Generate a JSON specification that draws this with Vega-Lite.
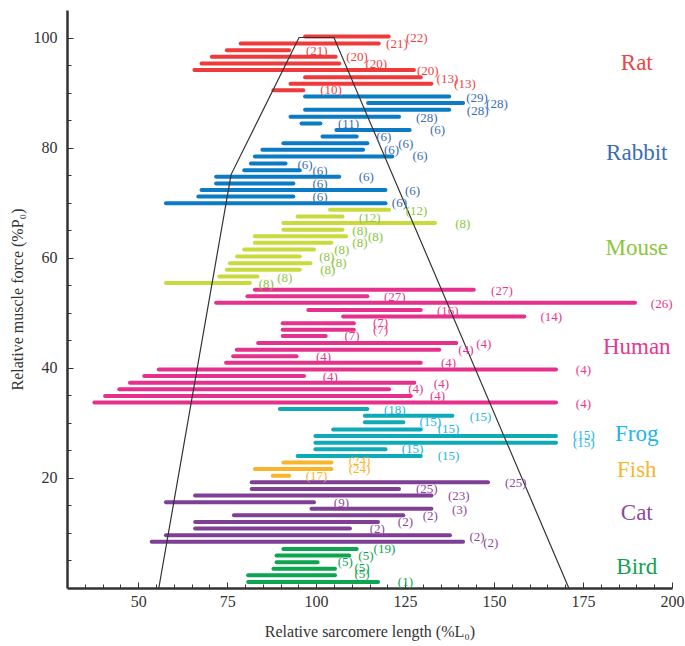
{
  "$schema": "https://vega.github.io/schema/vega-lite/v6.json",
  "autosize": "none",
  "width": 605,
  "height": 578,
  "padding": {"left": 67, "top": 10, "right": 13, "bottom": 58},
  "background": "white",
  "config": {"view": {"stroke": null}, "font": "Liberation Serif"},
  "datasets": {
    "bars": [
      {"s": "Rat", "y": 100.2, "x1": 96.9, "x2": 120.4},
      {"s": "Rat", "y": 98.9, "x1": 78.8, "x2": 117.6},
      {"s": "Rat", "y": 97.7, "x1": 74.9, "x2": 92.4},
      {"s": "Rat", "y": 96.5, "x1": 70.7, "x2": 105.5},
      {"s": "Rat", "y": 95.3, "x1": 67.8, "x2": 106.5},
      {"s": "Rat", "y": 94.1, "x1": 65.8, "x2": 127.5},
      {"s": "Rat", "y": 92.8, "x1": 96.9, "x2": 129.4},
      {"s": "Rat", "y": 91.6, "x1": 92.8, "x2": 132.4},
      {"s": "Rat", "y": 90.4, "x1": 88.0, "x2": 96.4},
      {"s": "Rabbit", "y": 89.3, "x1": 96.9, "x2": 137.4},
      {"s": "Rabbit", "y": 88.1, "x1": 114.6, "x2": 141.3},
      {"s": "Rabbit", "y": 86.9, "x1": 96.9, "x2": 137.4},
      {"s": "Rabbit", "y": 85.6, "x1": 92.8, "x2": 123.3},
      {"s": "Rabbit", "y": 84.4, "x1": 95.9, "x2": 101.2},
      {"s": "Rabbit", "y": 83.2, "x1": 105.7, "x2": 126.3},
      {"s": "Rabbit", "y": 82.0, "x1": 101.8, "x2": 111.4},
      {"s": "Rabbit", "y": 80.8, "x1": 90.8, "x2": 114.4},
      {"s": "Rabbit", "y": 79.6, "x1": 84.9, "x2": 113.2},
      {"s": "Rabbit", "y": 78.4, "x1": 82.8, "x2": 121.4},
      {"s": "Rabbit", "y": 77.1, "x1": 81.7, "x2": 91.4},
      {"s": "Rabbit", "y": 75.9, "x1": 79.8, "x2": 95.4},
      {"s": "Rabbit", "y": 74.7, "x1": 71.9, "x2": 106.5},
      {"s": "Rabbit", "y": 73.5, "x1": 71.9, "x2": 93.6},
      {"s": "Rabbit", "y": 72.3, "x1": 67.8, "x2": 119.5},
      {"s": "Rabbit", "y": 71.1, "x1": 66.9, "x2": 93.6},
      {"s": "Rabbit", "y": 69.9, "x1": 57.8, "x2": 119.5},
      {"s": "Mouse", "y": 68.7, "x1": 103.9, "x2": 120.5},
      {"s": "Mouse", "y": 67.5, "x1": 94.8, "x2": 107.4},
      {"s": "Mouse", "y": 66.3, "x1": 90.8, "x2": 133.4},
      {"s": "Mouse", "y": 65.1, "x1": 90.8, "x2": 107.4},
      {"s": "Mouse", "y": 63.9, "x1": 82.8, "x2": 108.4},
      {"s": "Mouse", "y": 62.7, "x1": 82.8, "x2": 104.3},
      {"s": "Mouse", "y": 61.5, "x1": 79.8, "x2": 99.4},
      {"s": "Mouse", "y": 60.2, "x1": 77.8, "x2": 95.4},
      {"s": "Mouse", "y": 59.0, "x1": 75.8, "x2": 98.4},
      {"s": "Mouse", "y": 57.8, "x1": 74.9, "x2": 95.4},
      {"s": "Mouse", "y": 56.6, "x1": 72.8, "x2": 83.5},
      {"s": "Mouse", "y": 55.4, "x1": 57.8, "x2": 81.4},
      {"s": "Human", "y": 54.2, "x1": 82.8, "x2": 144.3},
      {"s": "Human", "y": 53.0, "x1": 80.7, "x2": 114.4},
      {"s": "Human", "y": 51.8, "x1": 71.9, "x2": 189.6},
      {"s": "Human", "y": 50.5, "x1": 97.8, "x2": 129.4},
      {"s": "Human", "y": 49.3, "x1": 107.6, "x2": 158.5},
      {"s": "Human", "y": 48.1, "x1": 90.6, "x2": 110.6},
      {"s": "Human", "y": 46.9, "x1": 90.6, "x2": 110.6},
      {"s": "Human", "y": 45.8, "x1": 90.6, "x2": 102.7},
      {"s": "Human", "y": 44.5, "x1": 83.7, "x2": 139.4},
      {"s": "Human", "y": 43.3, "x1": 77.7, "x2": 134.6},
      {"s": "Human", "y": 42.1, "x1": 76.7, "x2": 94.5},
      {"s": "Human", "y": 40.9, "x1": 74.7, "x2": 129.4},
      {"s": "Human", "y": 39.7, "x1": 55.8, "x2": 167.4},
      {"s": "Human", "y": 38.5, "x1": 51.7, "x2": 96.6},
      {"s": "Human", "y": 37.3, "x1": 47.7, "x2": 127.6},
      {"s": "Human", "y": 36.1, "x1": 44.7, "x2": 120.5},
      {"s": "Human", "y": 34.9, "x1": 40.7, "x2": 126.6},
      {"s": "Human", "y": 33.7, "x1": 37.7, "x2": 167.4},
      {"s": "Frog", "y": 32.5, "x1": 89.8, "x2": 114.4},
      {"s": "Frog", "y": 31.3, "x1": 113.7, "x2": 138.3},
      {"s": "Frog", "y": 30.1, "x1": 113.7, "x2": 124.5},
      {"s": "Frog", "y": 28.8, "x1": 104.8, "x2": 129.4},
      {"s": "Frog", "y": 27.6, "x1": 99.8, "x2": 167.4},
      {"s": "Frog", "y": 26.4, "x1": 99.8, "x2": 167.4},
      {"s": "Frog", "y": 25.2, "x1": 99.8, "x2": 119.5},
      {"s": "Frog", "y": 24.0, "x1": 94.8, "x2": 129.4},
      {"s": "Fish", "y": 22.8, "x1": 90.8, "x2": 104.3},
      {"s": "Fish", "y": 21.6, "x1": 82.8, "x2": 104.3},
      {"s": "Fish", "y": 20.4, "x1": 87.8, "x2": 92.4},
      {"s": "Cat", "y": 19.2, "x1": 81.9, "x2": 148.3},
      {"s": "Cat", "y": 18.0, "x1": 81.9, "x2": 123.3},
      {"s": "Cat", "y": 16.8, "x1": 66.0, "x2": 132.4},
      {"s": "Cat", "y": 15.6, "x1": 57.8, "x2": 99.4},
      {"s": "Cat", "y": 14.4, "x1": 98.7, "x2": 132.4},
      {"s": "Cat", "y": 13.2, "x1": 76.9, "x2": 124.5},
      {"s": "Cat", "y": 12.0, "x1": 66.0, "x2": 117.4},
      {"s": "Cat", "y": 10.8, "x1": 66.0, "x2": 109.5},
      {"s": "Cat", "y": 9.6, "x1": 57.8, "x2": 137.6},
      {"s": "Cat", "y": 8.4, "x1": 53.8, "x2": 141.3},
      {"s": "Bird", "y": 7.1, "x1": 90.8, "x2": 111.4},
      {"s": "Bird", "y": 5.9, "x1": 88.9, "x2": 109.3},
      {"s": "Bird", "y": 4.7, "x1": 88.9, "x2": 100.4},
      {"s": "Bird", "y": 3.5, "x1": 88.0, "x2": 105.3},
      {"s": "Bird", "y": 2.3, "x1": 80.9, "x2": 105.3},
      {"s": "Bird", "y": 1.1, "x1": 80.9, "x2": 117.4}
    ],
    "labels": [
      {"s": "Rat", "x": 128.3, "y": 100.0, "t": "(22)"},
      {"s": "Rat", "x": 122.7, "y": 98.9, "t": "(21)"},
      {"s": "Rat", "x": 100.2, "y": 97.5, "t": "(21)"},
      {"s": "Rat", "x": 111.5, "y": 96.4, "t": "(20)"},
      {"s": "Rat", "x": 116.9, "y": 95.2, "t": "(20)"},
      {"s": "Rat", "x": 131.4, "y": 94.0, "t": "(20)"},
      {"s": "Rat", "x": 136.9, "y": 92.5, "t": "(13)"},
      {"s": "Rat", "x": 141.8, "y": 91.6, "t": "(13)"},
      {"s": "Rat", "x": 104.2, "y": 90.4, "t": "(10)"},
      {"s": "Rabbit", "x": 145.2, "y": 89.1, "t": "(29)"},
      {"s": "Rabbit", "x": 150.8, "y": 88.0, "t": "(28)"},
      {"s": "Rabbit", "x": 145.4, "y": 86.7, "t": "(28)"},
      {"s": "Rabbit", "x": 131.1, "y": 85.4, "t": "(28)"},
      {"s": "Rabbit", "x": 109.1, "y": 84.3, "t": "(11)"},
      {"s": "Rabbit", "x": 134.1, "y": 83.2, "t": "(6)"},
      {"s": "Rabbit", "x": 119.0, "y": 81.9, "t": "(6)"},
      {"s": "Rabbit", "x": 125.2, "y": 80.7, "t": "(6)"},
      {"s": "Rabbit", "x": 121.2, "y": 79.5, "t": "(6)"},
      {"s": "Rabbit", "x": 129.2, "y": 78.4, "t": "(6)"},
      {"s": "Rabbit", "x": 96.9, "y": 76.9, "t": "(6)"},
      {"s": "Rabbit", "x": 101.1, "y": 75.8, "t": "(6)"},
      {"s": "Rabbit", "x": 114.1, "y": 74.7, "t": "(6)"},
      {"s": "Rabbit", "x": 101.1, "y": 73.4, "t": "(6)"},
      {"s": "Rabbit", "x": 127.1, "y": 72.2, "t": "(6)"},
      {"s": "Rabbit", "x": 101.1, "y": 71.0, "t": "(6)"},
      {"s": "Rabbit", "x": 123.4, "y": 69.9, "t": "(6)"},
      {"s": "Mouse", "x": 128.2, "y": 68.4, "t": "(12)"},
      {"s": "Mouse", "x": 115.1, "y": 67.3, "t": "(12)"},
      {"s": "Mouse", "x": 141.2, "y": 66.1, "t": "(8)"},
      {"s": "Mouse", "x": 112.3, "y": 64.9, "t": "(8)"},
      {"s": "Mouse", "x": 116.7, "y": 63.8, "t": "(8)"},
      {"s": "Mouse", "x": 112.3, "y": 62.6, "t": "(8)"},
      {"s": "Mouse", "x": 107.2, "y": 61.4, "t": "(8)"},
      {"s": "Mouse", "x": 103.0, "y": 60.2, "t": "(8)"},
      {"s": "Mouse", "x": 106.4, "y": 59.0, "t": "(8)"},
      {"s": "Mouse", "x": 103.3, "y": 57.8, "t": "(8)"},
      {"s": "Mouse", "x": 91.2, "y": 56.3, "t": "(8)"},
      {"s": "Mouse", "x": 86.0, "y": 55.3, "t": "(8)"},
      {"s": "Human", "x": 152.2, "y": 54.0, "t": "(27)"},
      {"s": "Human", "x": 122.1, "y": 52.9, "t": "(27)"},
      {"s": "Human", "x": 197.1, "y": 51.6, "t": "(26)"},
      {"s": "Human", "x": 137.0, "y": 50.4, "t": "(16)"},
      {"s": "Human", "x": 166.1, "y": 49.3, "t": "(14)"},
      {"s": "Human", "x": 118.1, "y": 48.1, "t": "(7)"},
      {"s": "Human", "x": 118.1, "y": 46.9, "t": "(7)"},
      {"s": "Human", "x": 110.1, "y": 45.7, "t": "(7)"},
      {"s": "Human", "x": 147.1, "y": 44.4, "t": "(4)"},
      {"s": "Human", "x": 142.1, "y": 43.2, "t": "(4)"},
      {"s": "Human", "x": 102.1, "y": 42.0, "t": "(4)"},
      {"s": "Human", "x": 137.2, "y": 40.9, "t": "(4)"},
      {"s": "Human", "x": 175.1, "y": 39.6, "t": "(4)"},
      {"s": "Human", "x": 104.0, "y": 38.4, "t": "(4)"},
      {"s": "Human", "x": 135.2, "y": 37.1, "t": "(4)"},
      {"s": "Human", "x": 128.0, "y": 36.1, "t": "(4)"},
      {"s": "Human", "x": 134.1, "y": 34.9, "t": "(4)"},
      {"s": "Human", "x": 175.1, "y": 33.5, "t": "(4)"},
      {"s": "Frog", "x": 122.1, "y": 32.4, "t": "(18)"},
      {"s": "Frog", "x": 146.2, "y": 31.1, "t": "(15)"},
      {"s": "Frog", "x": 132.1, "y": 30.1, "t": "(15)"},
      {"s": "Frog", "x": 137.2, "y": 28.9, "t": "(15)"},
      {"s": "Frog", "x": 175.2, "y": 27.8, "t": "(15)"},
      {"s": "Frog", "x": 175.2, "y": 26.4, "t": "(15)"},
      {"s": "Frog", "x": 127.1, "y": 25.2, "t": "(15)"},
      {"s": "Frog", "x": 137.2, "y": 24.0, "t": "(15)"},
      {"s": "Fish", "x": 112.2, "y": 23.0, "t": "(24)"},
      {"s": "Fish", "x": 112.2, "y": 21.6, "t": "(24)"},
      {"s": "Fish", "x": 100.1, "y": 20.4, "t": "(17)"},
      {"s": "Cat", "x": 156.1, "y": 19.0, "t": "(25)"},
      {"s": "Cat", "x": 131.1, "y": 17.9, "t": "(25)"},
      {"s": "Cat", "x": 140.1, "y": 16.7, "t": "(23)"},
      {"s": "Cat", "x": 107.1, "y": 15.5, "t": "(9)"},
      {"s": "Cat", "x": 140.3, "y": 14.2, "t": "(3)"},
      {"s": "Cat", "x": 132.1, "y": 13.1, "t": "(2)"},
      {"s": "Cat", "x": 125.1, "y": 11.9, "t": "(2)"},
      {"s": "Cat", "x": 117.2, "y": 10.7, "t": "(2)"},
      {"s": "Cat", "x": 145.2, "y": 9.3, "t": "(2)"},
      {"s": "Cat", "x": 149.1, "y": 8.2, "t": "(2)"},
      {"s": "Bird", "x": 119.2, "y": 7.0, "t": "(19)"},
      {"s": "Bird", "x": 114.0, "y": 5.8, "t": "(5)"},
      {"s": "Bird", "x": 108.2, "y": 4.7, "t": "(5)"},
      {"s": "Bird", "x": 112.9, "y": 3.6, "t": "(5)"},
      {"s": "Bird", "x": 112.9, "y": 2.5, "t": "(5)"},
      {"s": "Bird", "x": 125.1, "y": 1.1, "t": "(1)"}
    ],
    "curve": [
      {"o": 1, "x": 55.8, "y": 0},
      {"o": 2, "x": 76.1, "y": 75.1},
      {"o": 3, "x": 95.2, "y": 100},
      {"o": 4, "x": 105.0, "y": 100},
      {"o": 5, "x": 171.0, "y": 0}
    ],
    "names": [
      {"s": "Rat", "x": 190.1, "y": 95.3},
      {"s": "Rabbit", "x": 190.1, "y": 79.1},
      {"s": "Mouse", "x": 190.1, "y": 61.8},
      {"s": "Human", "x": 190.1, "y": 43.8},
      {"s": "Frog", "x": 190.1, "y": 28.0},
      {"s": "Fish", "x": 190.1, "y": 21.5},
      {"s": "Cat", "x": 190.1, "y": 13.6},
      {"s": "Bird", "x": 190.1, "y": 3.8}
    ]
  },
  "layer": [
    {
      "data": {"name": "bars"},
      "mark": {"type": "rule", "strokeWidth": 4, "strokeCap": "round"},
      "encoding": {
        "x": {
          "field": "x1", "type": "quantitative",
          "scale": {"domain": [30, 200], "nice": false, "zero": false},
          "axis": {
            "title": "Relative sarcomere length (%L₀)",
            "values": [35,40,45,50,55,60,65,70,75,80,85,90,95,100,105,110,115,120,125,130,135,140,145,150,155,160,165,170,175,180,185,190,195,200],
            "tickCount": 200,
            "format": "d",
            "labelExpr": "datum.value % 25 === 0 ? datum.label : ''",
            "labelOverlap": false,
            "labelFlush": false,
            "grid": false,
            "domainColor": "#333333",
            "domainWidth": 2.5,
            "tickColor": "#333333",
            "tickWidth": 1,
            "tickSize": {"condition": {"test": "datum.value % 25 === 0", "value": -6}, "value": -4},
            "labelPadding": 11,
            "labelFont": "Liberation Serif",
            "labelFontSize": 16,
            "labelColor": "#333333",
            "titleFont": "Liberation Serif",
            "titleFontSize": 16,
            "titleFontWeight": "normal",
            "titleColor": "#333333",
            "titlePadding": 12
          }
        },
        "x2": {"field": "x2"},
        "y": {
          "field": "y", "type": "quantitative",
          "scale": {"domain": [0, 105], "nice": false, "zero": false},
          "axis": {
            "title": "Relative muscle force (%P₀)",
            "values": [5,10,15,20,25,30,35,40,45,50,55,60,65,70,75,80,85,90,95,100],
            "tickCount": 200,
            "format": "d",
            "labelExpr": "datum.value % 20 === 0 ? datum.label : ''",
            "labelOverlap": false,
            "grid": false,
            "domainColor": "#333333",
            "domainWidth": 2.5,
            "tickColor": "#333333",
            "tickWidth": 1,
            "tickSize": {"condition": {"test": "datum.value % 20 === 0", "value": -6}, "value": -4},
            "labelPadding": 16,
            "labelFont": "Liberation Serif",
            "labelFontSize": 16,
            "labelColor": "#333333",
            "titleFont": "Liberation Serif",
            "titleFontSize": 16,
            "titleFontWeight": "normal",
            "titleColor": "#333333",
            "titlePadding": 8
          }
        },
        "color": {
          "field": "s", "type": "nominal", "legend": null,
          "scale": {
            "domain": ["Rat", "Rabbit", "Mouse", "Human", "Frog", "Fish", "Cat", "Bird"],
            "range": ["#EE3A3A", "#0A7BC4", "#C9DA3C", "#E5308C", "#0EAAB8", "#F9B52A", "#7E3F95", "#0DA550"]
          }
        }
      }
    },
    {
      "data": {"name": "curve"},
      "mark": {"type": "line", "color": "#333333", "strokeWidth": 1.2},
      "encoding": {
        "x": {"field": "x", "type": "quantitative"},
        "y": {"field": "y", "type": "quantitative"},
        "order": {"field": "o", "type": "quantitative"}
      }
    },
    {
      "data": {"name": "labels"},
      "mark": {"type": "text", "font": "Liberation Serif", "fontSize": 13, "align": "center", "baseline": "middle"},
      "encoding": {
        "x": {"field": "x", "type": "quantitative"},
        "y": {"field": "y", "type": "quantitative"},
        "text": {"field": "t", "type": "nominal"},
        "color": {
          "field": "s", "type": "nominal", "legend": null,
          "scale": {
            "domain": ["Rat", "Rabbit", "Mouse", "Human", "Frog", "Fish", "Cat", "Bird"],
            "range": ["#EE4444", "#3A6DB5", "#8CC63E", "#E8388E", "#22B5EA", "#F9B52A", "#8C4A9E", "#10A34F"]
          }
        }
      }
    },
    {
      "data": {"name": "names"},
      "mark": {"type": "text", "font": "Liberation Serif", "fontSize": 23, "align": "center", "baseline": "middle"},
      "encoding": {
        "x": {"field": "x", "type": "quantitative"},
        "y": {"field": "y", "type": "quantitative"},
        "text": {"field": "s", "type": "nominal"},
        "color": {
          "field": "s", "type": "nominal", "legend": null,
          "scale": {
            "domain": ["Rat", "Rabbit", "Mouse", "Human", "Frog", "Fish", "Cat", "Bird"],
            "range": ["#EE4444", "#3A6DB5", "#8CC63E", "#E8388E", "#22B5EA", "#F9B52A", "#8C4A9E", "#10A34F"]
          }
        }
      }
    }
  ],
  "resolve": {"scale": {"color": "independent"}}
}
